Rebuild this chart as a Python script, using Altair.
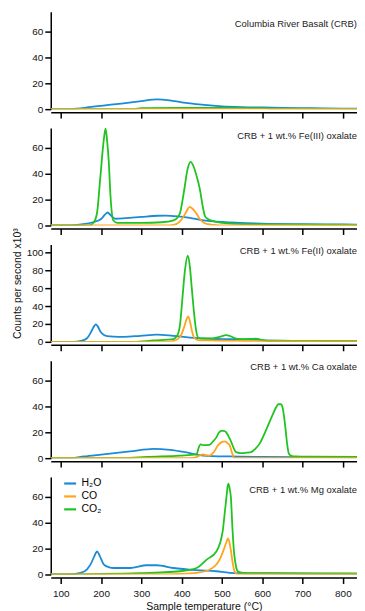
import altair as alt
import pandas as pd

FONT = "Liberation Sans"
T_DOMAIN = [75, 835]
X_TICKS = [100, 200, 300, 400, 500, 600, 700, 800]
SPECIES = ["H₂O", "CO", "CO₂"]
COLORS = ["#1c8bd6", "#ffa41c", "#1fc41f"]

PANEL_TITLES = [
    "Columbia River Basalt (CRB)",
    "CRB + 1 wt.% Fe(III) oxalate",
    "CRB + 1 wt.% Fe(II) oxalate",
    "CRB + 1 wt.% Ca oxalate",
    "CRB + 1 wt.% Mg oxalate",
]
Y_MAX = [75, 75, 109, 75, 75]
Y_TICKS_SMALL = [0, 20, 40, 60]
Y_TICKS_LARGE = [0, 20, 40, 60, 80, 100]

# ---------------- Panel 1: CRB ----------------
P1_H2O_T = [75, 120, 140, 170, 200, 250, 300, 338, 370, 400, 450, 500, 550, 600, 650, 700, 750, 800, 835]
P1_H2O_V = [0, 0, 0.3, 1.5, 2.6, 4.3, 6.2, 7.5, 6.8, 5.3, 3.5, 2.2, 1.6, 1.3, 1.0, 0.8, 0.6, 0.4, 0.3]
P1_CO_T = [75, 835]
P1_CO_V = [0, 0]
P1_CO2_T = [75, 280, 300, 400, 500, 600, 620, 835]
P1_CO2_V = [0, 0, 0.8, 1.0, 1.0, 0.8, 0.3, 0.2]

# ---------------- Panel 2: Fe(III) oxalate ----------------
P2_H2O_T = [75, 125, 150, 180, 200, 210, 216, 225, 235, 260, 300, 340, 360, 390, 420, 450, 480, 520, 560, 600, 700, 800, 835]
P2_H2O_V = [0, 0, 0.8, 2.5, 5, 8.5, 10, 7.5, 5.2, 5.6, 6.6, 7.5, 7.6, 7.0, 5.8, 4.2, 3.1, 2.4, 1.8, 1.4, 1.0, 0.8, 0.7]
P2_CO_T = [75, 360, 380, 395, 405, 412, 420, 428, 437, 445, 453, 465, 480, 500, 835]
P2_CO_V = [0, 0, 0.5, 3, 7, 11, 14.4, 12.5, 9, 5, 2.5, 1, 0.4, 0, 0]
P2_CO2_T = [75, 170, 182, 190, 198, 207, 211, 215, 219, 223, 230, 240, 300, 350, 380, 395, 405, 415, 422, 430, 437, 445, 452, 458, 465, 480, 500, 540, 600, 700, 835]
P2_CO2_V = [0, 0, 2.5, 10, 37, 67, 74.5, 65, 49, 24, 4, 2, 2, 2.5, 4, 9, 25, 44, 49, 45, 38, 28, 15, 7, 5, 3.2, 2.0, 1.2, 0.8, 0.6, 0.5]

# ---------------- Panel 3: Fe(II) oxalate ----------------
P3_H2O_T = [75, 130, 150, 165, 175, 182, 187, 192, 199, 207, 215, 230, 256, 297, 338, 379, 420, 453, 519, 584, 600, 620, 700, 835]
P3_H2O_V = [0, 0, 1, 4, 11, 17, 19.6, 17, 11, 7.5, 6.3, 5.8, 5.6, 6.7, 8.1, 6.7, 4.8, 3.7, 3, 2.6, 1.9, 1.2, 1.0, 0.8]
P3_CO_T = [75, 360, 380, 396, 405, 411, 416, 421, 426, 432, 440, 460, 520, 600, 835]
P3_CO_V = [0, 0, 1, 5.6, 15, 24, 28.5, 22, 11, 4, 2, 1.6, 1.1, 0.6, 0.5]
P3_CO2_T = [75, 280, 330, 379, 390, 396, 402, 408, 415, 420, 425, 430, 435, 441, 450, 470, 494, 510, 520, 535, 555, 570, 584, 600, 620, 700, 835]
P3_CO2_V = [0, 0, 1.5, 3, 8, 20, 50, 80, 96.5, 85, 60, 35, 15, 4.5, 3.7, 3.7, 5.6, 7.4, 6.5, 3.7, 3, 3.2, 3.5, 1.9, 1.2, 1.0, 0.8]

# ---------------- Panel 4: Ca oxalate ----------------
P4_H2O_T = [75, 125, 157, 200, 272, 330, 371, 420, 453, 519, 600, 765, 835]
P4_H2O_V = [0, 0, 1.3, 2.8, 5.2, 7.2, 6.4, 3.9, 2, 1.3, 1.0, 0.8, 0.7]
P4_CO_T = [75, 420, 437, 447, 453, 460, 469, 478, 490, 500, 506, 512, 519, 525, 531, 835]
P4_CO_V = [0, 0, 0.8, 2.5, 2.8, 2.3, 2, 4, 9.8, 12.5, 12.9, 12, 9.8, 4, 0, 0]
P4_CO2_T = [75, 256, 313, 396, 437, 442, 447, 453, 469, 478, 486, 492, 498, 505, 510, 516, 523, 530, 535, 545, 552, 560, 572, 582, 593, 609, 625, 635, 640, 646, 650, 654, 658, 662, 666, 672, 683, 720, 835]
P4_CO2_V = [0, 0, 1, 2, 3, 8, 10.6, 10, 10.3, 13, 16, 19.5, 21, 21, 20, 17, 12.4, 7, 4.6, 3.9, 3.9, 4.2, 4.6, 7, 11, 21.4, 33, 39.5, 41.5, 41.5, 39.4, 32, 21.4, 10, 3.4, 1.8, 1.3, 1.2, 1.0]

# ---------------- Panel 5: Mg oxalate ----------------
P5_H2O_T = [75, 116, 149, 165, 175, 183, 190, 197, 207, 220, 231, 272, 313, 338, 379, 437, 486, 519, 600, 700, 835]
P5_H2O_V = [0, 0, 1.3, 4, 8.5, 14, 17.7, 14, 7.6, 5.5, 5, 5, 7.1, 7.1, 5, 3.3, 2.5, 1.3, 0.8, 0.6, 0.5]
P5_CO_T = [75, 313, 400, 437, 470, 494, 503, 511, 515, 519, 523, 527, 531, 539, 835]
P5_CO_V = [0, 0, 0.5, 1.3, 3.8, 11.4, 18, 25, 27.8, 24, 16.5, 8, 2.5, 0, 0]
P5_CO2_T = [75, 297, 396, 437, 462, 486, 495, 502, 507, 511, 514, 516, 519, 522, 526, 530, 535, 539, 552, 600, 835]
P5_CO2_V = [0, 1, 2.5, 5, 11.4, 17.7, 24, 34, 48, 59.5, 68, 70, 66, 59.5, 35, 16.5, 6, 2.5, 1.3, 1.0, 0.8]

PANELS = [
    [(P1_H2O_T, P1_H2O_V), (P1_CO_T, P1_CO_V), (P1_CO2_T, P1_CO2_V)],
    [(P2_H2O_T, P2_H2O_V), (P2_CO_T, P2_CO_V), (P2_CO2_T, P2_CO2_V)],
    [(P3_H2O_T, P3_H2O_V), (P3_CO_T, P3_CO_V), (P3_CO2_T, P3_CO2_V)],
    [(P4_H2O_T, P4_H2O_V), (P4_CO_T, P4_CO_V), (P4_CO2_T, P4_CO2_V)],
    [(P5_H2O_T, P5_H2O_V), (P5_CO_T, P5_CO_V), (P5_CO2_T, P5_CO2_V)],
]

W, H = 308, 98
TITLE_Y = [12, 8, 7, 6, 13]
DRAW_ORDER = [0, 2, 1]  # H2O, CO2, CO on top


def make_panel(i):
    last = i == len(PANELS) - 1
    ticks = Y_TICKS_LARGE if Y_MAX[i] > 100 else Y_TICKS_SMALL
    x_axis = alt.Axis(
        values=X_TICKS,
        offset=3,
        labels=last,
        title="Sample temperature (°C)" if last else None,
        titlePadding=3,
        labelPadding=5,
    )
    y_axis = alt.Axis(
        values=ticks,
        title="Counts per second x10³" if i == 2 else None,
        titlePadding=4,
        titleY=39,
    )
    legend = (
        alt.Legend(
            orient="none",
            legendX=12,
            legendY=-1,
            title=None,
            symbolType="stroke",
            symbolSize=144,
            symbolStrokeWidth=2.2,
            labelFontSize=10.5,
            labelFont=FONT,
            rowPadding=0,
            labelOffset=4,
        )
        if last
        else None
    )
    layers = []
    for k in DRAW_ORDER:
        ts, vs = PANELS[i][k]
        df = pd.DataFrame({"T": ts, "v": vs, "species": [SPECIES[k]] * len(ts)})
        layers.append(
            alt.Chart(df)
            .mark_line(strokeWidth=1.8, interpolate="monotone", clip=True)
            .encode(
                x=alt.X("T:Q", scale=alt.Scale(domain=T_DOMAIN, nice=False, zero=False), axis=x_axis),
                y=alt.Y("v:Q", scale=alt.Scale(domain=[0, Y_MAX[i]], nice=False), axis=y_axis),
                color=alt.Color(
                    "species:N",
                    scale=alt.Scale(domain=SPECIES, range=COLORS),
                    legend=legend,
                ),
            )
        )
    title = (
        alt.Chart(pd.DataFrame({"t": [PANEL_TITLES[i]]}))
        .mark_text(align="right", baseline="middle", font=FONT, fontSize=9.5, color="#222")
        .encode(text="t:N", x=alt.value(W), y=alt.value(TITLE_Y[i]))
    )
    return alt.layer(*layers, title).properties(width=W, height=H)


chart = (
    alt.vconcat(*[make_panel(i) for i in range(len(PANELS))], spacing=19, bounds="flush")
    .resolve_scale(y="independent", color="independent")
    .resolve_legend(color="independent")
    .properties(padding={"left": 4, "top": 2, "right": 0, "bottom": 0})
    .configure_view(stroke=None)
    .configure_axis(
        grid=False,
        labelFont=FONT,
        labelFontSize=10,
        labelColor="#111",
        titleFont=FONT,
        titleFontSize=10.5,
        titleFontWeight="normal",
        titleColor="#111",
        domainColor="#000",
        tickColor="#000",
        domainWidth=1.5,
        tickWidth=1.5,
        tickSize=6,
    )
)

chart.save("out.html", embed_options={"renderer": "svg", "actions": False})
